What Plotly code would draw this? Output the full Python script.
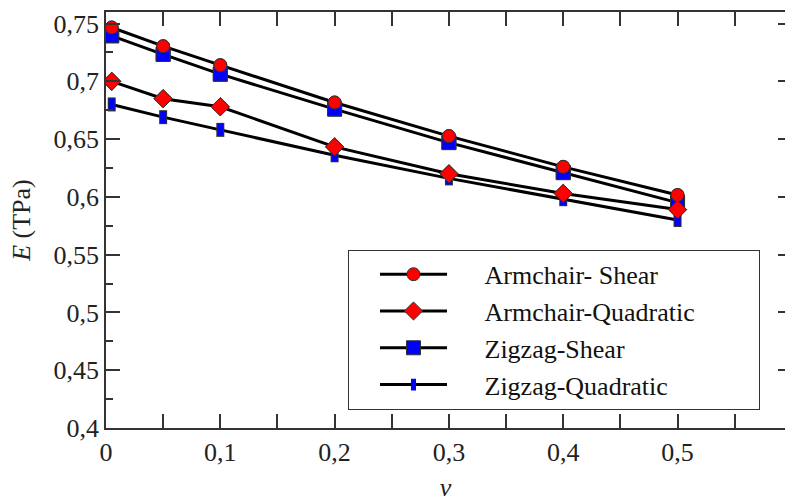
import plotly.graph_objects as go

nu = [0.005, 0.05, 0.1, 0.2, 0.3, 0.4, 0.5]
armchair_shear = [0.7466, 0.7304, 0.714, 0.6817, 0.6526, 0.626, 0.6016]
armchair_quadratic = [0.700, 0.685, 0.678, 0.6433, 0.620, 0.603, 0.589]
zigzag_shear = [0.7394, 0.7233, 0.7062, 0.676, 0.647, 0.621, 0.595]
zigzag_quadratic = [0.680, 0.669, 0.658, 0.636, 0.616, 0.598, 0.580]

names = ["Armchair- Shear", "Armchair-Quadratic", "Zigzag-Shear", "Zigzag-Quadratic"]

FONT = "'Liberation Serif', 'Times New Roman', Times, serif"
RED = "#ff0000"
BLUE = "#0000ff"
OUT = "#333333"
PAD_L = "\u00a0" * 5
PAD_R = "\u00a0" * 9

fig = go.Figure()

series = [
    (names[0], armchair_shear, dict(symbol="circle", size=13, color=RED, line=dict(color=OUT, width=1))),
    (names[1], armchair_quadratic, dict(symbol="diamond", size=14, color=RED, line=dict(color=OUT, width=1))),
    (names[2], zigzag_shear, dict(symbol="square", size=14, color=BLUE, line=dict(color=OUT, width=1))),
    (names[3], zigzag_quadratic, dict(symbol="line-ns", size=8.5, color=BLUE, line=dict(color=BLUE, width=6))),
]

# legend traces (lines + markers)
for name, ys, mk in series:
    fig.add_trace(go.Scatter(x=nu, y=ys, mode="lines+markers", name=PAD_L + name + PAD_R,
                             line=dict(color="black", width=3), marker=mk))

# markers on top of all lines
fig.add_trace(go.Scatter(x=nu, y=zigzag_quadratic, mode="markers", showlegend=False,
                         marker=dict(symbol="line-ns", size=10, color=OUT, line=dict(color=OUT, width=8))))
fig.add_trace(go.Scatter(x=nu, y=zigzag_quadratic, mode="markers", showlegend=False,
                         marker=dict(symbol="line-ns", size=8.5, color=BLUE, line=dict(color=BLUE, width=6))))
for name, ys, mk in [series[2], series[1], series[0]]:
    fig.add_trace(go.Scatter(x=nu, y=ys, mode="markers", showlegend=False, marker=mk))

# dummy trace for right-side ticks
fig.add_trace(go.Scatter(x=[], y=[], yaxis="y2", showlegend=False, hoverinfo="skip"))

axis_common = dict(showgrid=False, zeroline=False, showline=True, linecolor="#333333", linewidth=1.5,
                   ticks="inside", tickcolor="#333333", tickwidth=1.5,
                   tickfont=dict(family=FONT, size=26, color="#222222"))

fig.update_layout(
    width=785, height=502,
    margin=dict(l=106, r=0, t=12, b=74),
    plot_bgcolor="white", paper_bgcolor="white",
    separators=", ",
    font=dict(family=FONT),
    xaxis=dict(range=[0, 0.594], dtick=0.1, tick0=0, ticklen=14, mirror="allticks",
               minor=dict(dtick=0.05, ticks="inside", ticklen=7, tickcolor="#333333", tickwidth=1.5),
               title=dict(text="<i>ν</i>", font=dict(family=FONT, size=26, color="#222222"), standoff=12),
               **axis_common),
    yaxis=dict(range=[0.4, 0.76], dtick=0.05, tick0=0.4, ticklen=14,
               minor=dict(dtick=0.025, ticks="inside", ticklen=7, tickcolor="#333333", tickwidth=1.5),
               title=dict(text="<i>E</i> (TPa)", font=dict(family=FONT, size=26, color="#222222"), standoff=15),
               **axis_common),
    yaxis2=dict(overlaying="y", side="right", range=[0.4, 0.76], dtick=0.05, tick0=0.4,
                showgrid=False, zeroline=False, showline=False, ticks="inside", ticklen=7,
                tickcolor="#333333", tickwidth=1.5, showticklabels=False),
    legend=dict(x=0.3564, y=0.4284, xanchor="left", yanchor="top",
                bgcolor="white", bordercolor="#333333", borderwidth=1,
                font=dict(family=FONT, size=26, color="#111111"),
                itemwidth=67, indentation=26),
    showlegend=True,
)

fig.write_html("out.html")
